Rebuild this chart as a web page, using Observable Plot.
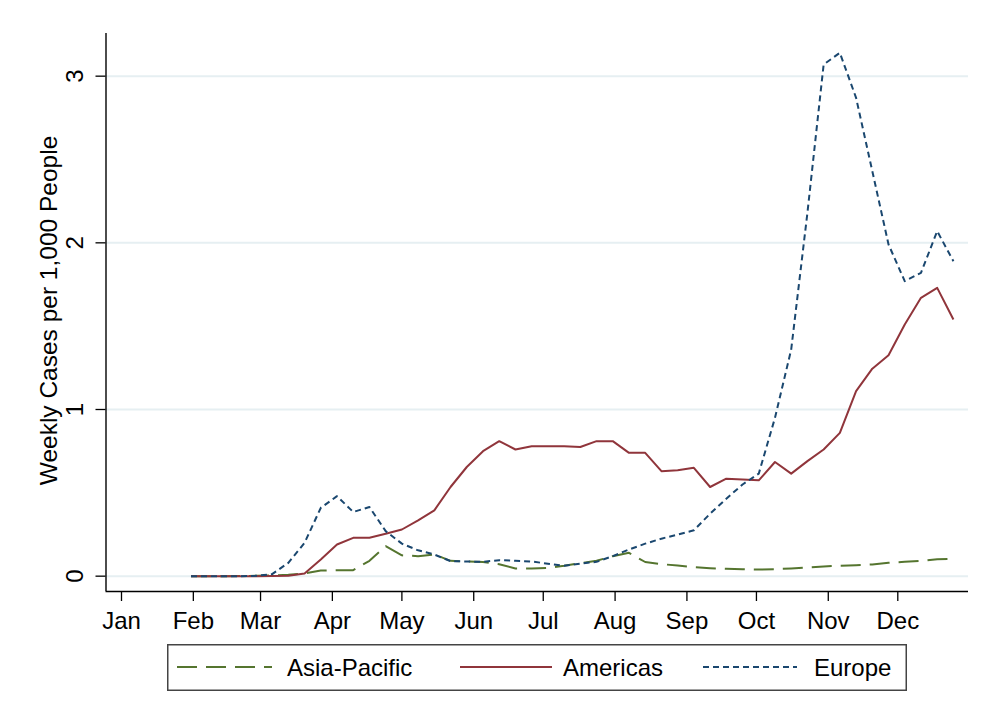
<!DOCTYPE html>
<html>
<head>
<meta charset="utf-8">
<script src="https://cdn.jsdelivr.net/npm/d3@7"></script>
<script src="https://cdn.jsdelivr.net/npm/@observablehq/plot@0.6"></script>
<style>
  html, body { margin: 0; padding: 0; background: #fff; }
  body { position: relative; width: 985px; height: 720px; overflow: hidden; font-family: "Liberation Sans", Arial, sans-serif; }
  #topline { position: absolute; top: 7px; left: 5px; width: 980px; height: 2px; background: #e8eef1; }
  #chart { position: absolute; top: 0; left: 0; }
  #legend { position: absolute; left: 167px; top: 644px; }
</style>
</head>
<body>
<div id="topline"></div>
<div id="chart"></div>
<div id="legend"></div>
<script>
// ---- data ----
const dates = [
  "2020-01-31","2020-02-07","2020-02-14","2020-02-21","2020-02-28",
  "2020-03-06","2020-03-13","2020-03-20","2020-03-27","2020-04-03",
  "2020-04-10","2020-04-17","2020-04-24","2020-05-01","2020-05-08",
  "2020-05-15","2020-05-22","2020-05-29","2020-06-05","2020-06-12",
  "2020-06-19","2020-06-26","2020-07-03","2020-07-10","2020-07-17",
  "2020-07-24","2020-07-31","2020-08-07","2020-08-14","2020-08-21",
  "2020-08-28","2020-09-04","2020-09-11","2020-09-18","2020-09-25",
  "2020-10-02","2020-10-09","2020-10-16","2020-10-23","2020-10-30",
  "2020-11-06","2020-11-13","2020-11-20","2020-11-27","2020-12-04",
  "2020-12-11","2020-12-18","2020-12-25"
];
const asiaPacific = [
  0, 0, 0, 0.001, 0.002,
  0.005, 0.008, 0.016, 0.034, 0.036,
  0.036, 0.092, 0.18, 0.125, 0.12,
  0.13, 0.092, 0.088, 0.085, 0.072,
  0.046, 0.046, 0.05, 0.062, 0.078,
  0.092, 0.12, 0.14, 0.085, 0.072,
  0.064, 0.054, 0.048, 0.044, 0.041,
  0.04, 0.042, 0.046, 0.052, 0.058,
  0.063, 0.066, 0.07, 0.08, 0.086,
  0.092, 0.102, 0.104
];
const americas = [
  0, 0, 0, 0, 0,
  0.001, 0.003, 0.016, 0.1, 0.19,
  0.23, 0.23, 0.255, 0.28, 0.335,
  0.395, 0.535, 0.655, 0.75, 0.81,
  0.76, 0.78, 0.78, 0.78, 0.775,
  0.81, 0.81, 0.74, 0.74, 0.63,
  0.635, 0.65, 0.535, 0.585, 0.58,
  0.575, 0.685, 0.615, 0.69, 0.76,
  0.86, 1.11, 1.245, 1.325, 1.51,
  1.67, 1.73, 1.54
];
const europe = [
  0, 0, 0, 0, 0.002,
  0.012, 0.08, 0.2, 0.41, 0.48,
  0.385, 0.415, 0.27, 0.195, 0.155,
  0.13, 0.09, 0.088, 0.086, 0.096,
  0.092, 0.088, 0.075, 0.062, 0.075,
  0.086, 0.12, 0.16, 0.195, 0.225,
  0.25, 0.275, 0.375, 0.465, 0.55,
  0.615, 0.95, 1.36, 2.18, 3.07,
  3.14, 2.87, 2.43, 1.99, 1.77,
  1.82, 2.07, 1.89
];
const seriesNames = ["Asia-Pacific", "Americas", "Europe"];
const seriesColors = ["#55752f", "#90353b", "#1a476f"];
const seriesDash = ["20,9", null, "6,4"];
const monthStarts = ["2020-01-01","2020-02-01","2020-03-01","2020-04-01","2020-05-01","2020-06-01",
                     "2020-07-01","2020-08-01","2020-09-01","2020-10-01","2020-11-01","2020-12-01"];
const monthLabels = ["Jan","Feb","Mar","Apr","May","Jun","Jul","Aug","Sep","Oct","Nov","Dec"];
const yTicks = [0, 1, 2, 3];
const yTickLabels = ["0", "1", "2", "3"];
const yTitle = "Weekly Cases per 1,000 People";

// ---- build ----
const parse = d3.utcParse("%Y-%m-%d");
const mk = (vals) => dates.map((d, i) => ({date: parse(d), value: vals[i]}));
const seriesData = [mk(asiaPacific), mk(americas), mk(europe)];
const xDomain = [new Date(Date.UTC(2019, 11, 25, 7, 30)), new Date(Date.UTC(2020, 11, 31, 12, 15))];
const yDomain = [-0.092, 3.256];
const font = "'Liberation Sans', Arial, sans-serif";

const lineMarks = seriesData.map((data, i) =>
  Plot.line(data, {
    x: "date", y: "value",
    stroke: seriesColors[i], strokeWidth: 2,
    strokeDasharray: seriesDash[i] || undefined,
    strokeLinejoin: "round", strokeLinecap: "butt"
  })
);

const chart = Plot.plot({
  width: 985,
  height: 640,
  marginLeft: 105.5,
  marginRight: 17,
  marginTop: 33,
  marginBottom: 49,
  style: {fontFamily: font, color: "#000", background: "#fff", overflow: "visible"},
  x: {type: "utc", domain: xDomain, axis: null},
  y: {domain: yDomain, axis: null},
  marks: [
    Plot.gridY(yTicks, {stroke: "#e6eff2", strokeOpacity: 1, strokeWidth: 2}),
    Plot.axisX({
      ticks: monthStarts.map(parse),
      tickSize: 10, tickPadding: 10, strokeWidth: 1.3,
      tickFormat: d => monthLabels[d.getUTCMonth()],
      fontSize: 24, fill: "#000", label: null
    }),
    Plot.axisY({ticks: yTicks, tickSize: 10, strokeWidth: 1.3, tickFormat: () => "", label: null}),
    Plot.text(yTicks, {
      y: d => d, text: (d, i) => yTickLabels[i], frameAnchor: "left",
      dx: -31, rotate: -90, fontSize: 24, textAnchor: "middle", lineAnchor: "middle", fill: "#000"
    }),
    Plot.text([yTitle], {
      text: d => d, frameAnchor: "left", dx: -57, dy: -2, rotate: -90, fontSize: 24.5,
      textAnchor: "middle", lineAnchor: "middle", fill: "#000"
    }),
    ...lineMarks,
    Plot.ruleY([yDomain[0]], {stroke: "#000", strokeWidth: 1.4}),
    Plot.ruleX([xDomain[0]], {stroke: "#000", strokeWidth: 1.4})
  ]
});
document.getElementById("chart").appendChild(chart);

// ---- legend ----
const lw = 740, lh = 47;
const legend = d3.select("#legend").append("svg")
  .attr("width", lw).attr("height", lh)
  .style("font-family", font);
legend.append("rect").attr("x", 0.75).attr("y", 0.75).attr("width", lw - 1.5).attr("height", lh - 1.5)
  .attr("fill", "#fff").attr("stroke", "#444").attr("stroke-width", 1.5);
const lineX = [[10, 105], [293, 385], [536, 630]];
const textX = [120, 396, 647];
seriesNames.forEach((name, i) => {
  legend.append("line")
    .attr("x1", lineX[i][0]).attr("x2", lineX[i][1]).attr("y1", 23).attr("y2", 23)
    .attr("stroke", seriesColors[i]).attr("stroke-width", 2)
    .attr("stroke-dasharray", seriesDash[i]);
  legend.append("text").attr("x", textX[i]).attr("y", 31.5)
    .attr("font-size", 24).attr("fill", "#000").text(name);
});
</script>
</body>
</html>
